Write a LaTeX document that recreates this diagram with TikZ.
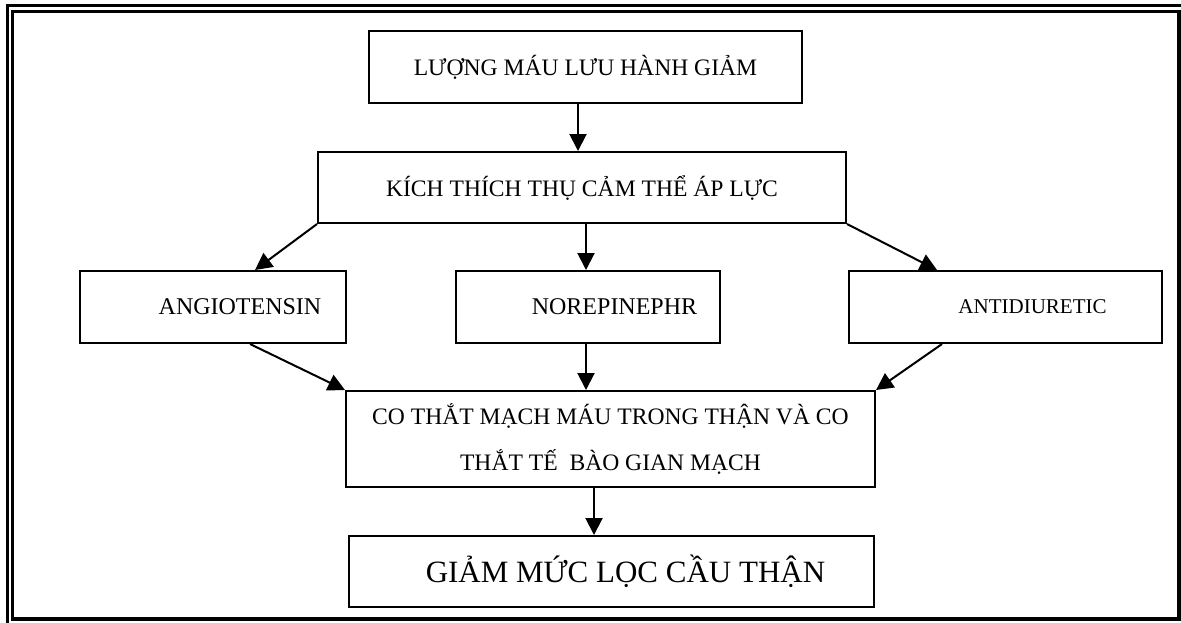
\documentclass[tikz,border=0pt]{standalone}
\usepackage{fontspec}
\setmainfont{Liberation Serif}
\usetikzlibrary{arrows.meta}

\begin{document}
\begin{tikzpicture}[x=0.5pt, y=-0.5pt, >={Triangle[length=8.5pt,width=8.5pt]},
  box/.style={draw, line width=1pt, inner sep=0pt, align=center},
  link/.style={->, line width=1pt}]
\useasboundingbox (0,0) rectangle (1181,622);

% double frame
\draw[line width=1.6pt] (7.5,5.5) rectangle (1186,626);
\draw[line width=1.6pt] (12.5,11.5) rectangle (1179,619);

\path
(585.5,67)   node[box, minimum width=216.5pt, minimum height=36pt, font=\fontsize{11.8}{14}\selectfont] (luong) {LƯỢNG MÁU LƯU HÀNH GIẢM}
(582,187.5)  node[box, minimum width=264pt, minimum height=35.5pt, font=\fontsize{11.8}{14}\selectfont] (kich) {KÍCH THÍCH THỤ CẢM THỂ ÁP LỰC}

(213,307)    node[box, minimum width=133pt, minimum height=36pt, font=\fontsize{12}{14}\selectfont] (angio) {\hspace*{27pt}ANGIOTENSIN}
(588,307)    node[box, minimum width=132pt, minimum height=36pt, font=\fontsize{12}{14}\selectfont] (norep) {\hspace*{26.5pt}NOREPINEPHR}
(1005.5,307) node[box, minimum width=156.5pt, minimum height=36pt, font=\fontsize{10.5}{13}\selectfont] (antid) {\hspace*{27pt}ANTIDIURETIC}

(610.5,439)  node[box, minimum width=264.5pt, minimum height=48pt, font=\fontsize{11.8}{23}\selectfont] (cothat) {CO THẮT MẠCH MÁU TRONG THẬN VÀ CO\\ THẮT TẾ~ BÀO GIAN MẠCH}
(611.5,571.5) node[box, minimum width=262.5pt, minimum height=35.5pt, font=\fontsize{15.5}{18}\selectfont] (giam) {\hspace*{14pt}GIẢM MỨC LỌC CẦU THẬN};

\draw[link] ([xshift=-3.75pt]luong.south) -- ([xshift=-2pt]kich.north);

\draw[link] (kich.south west) -- ([xshift=21pt]angio.north);
\draw[link] ([xshift=2pt]kich.south) -- ([xshift=-1pt]norep.north);
\draw[link] (kich.south east) -- ([xshift=-34.25pt]antid.north);

\draw[link] ([xshift=18.5pt]angio.south) -- (cothat.north west);
\draw[link] ([xshift=-1pt]norep.south) -- ([xshift=-12.25pt]cothat.north);
\draw[link] ([xshift=-31.75pt]antid.south) -- (cothat.north east);

\draw[link] ([xshift=-8.25pt]cothat.south) -- ([xshift=-8.75pt]giam.north);
\end{tikzpicture}
\end{document}
